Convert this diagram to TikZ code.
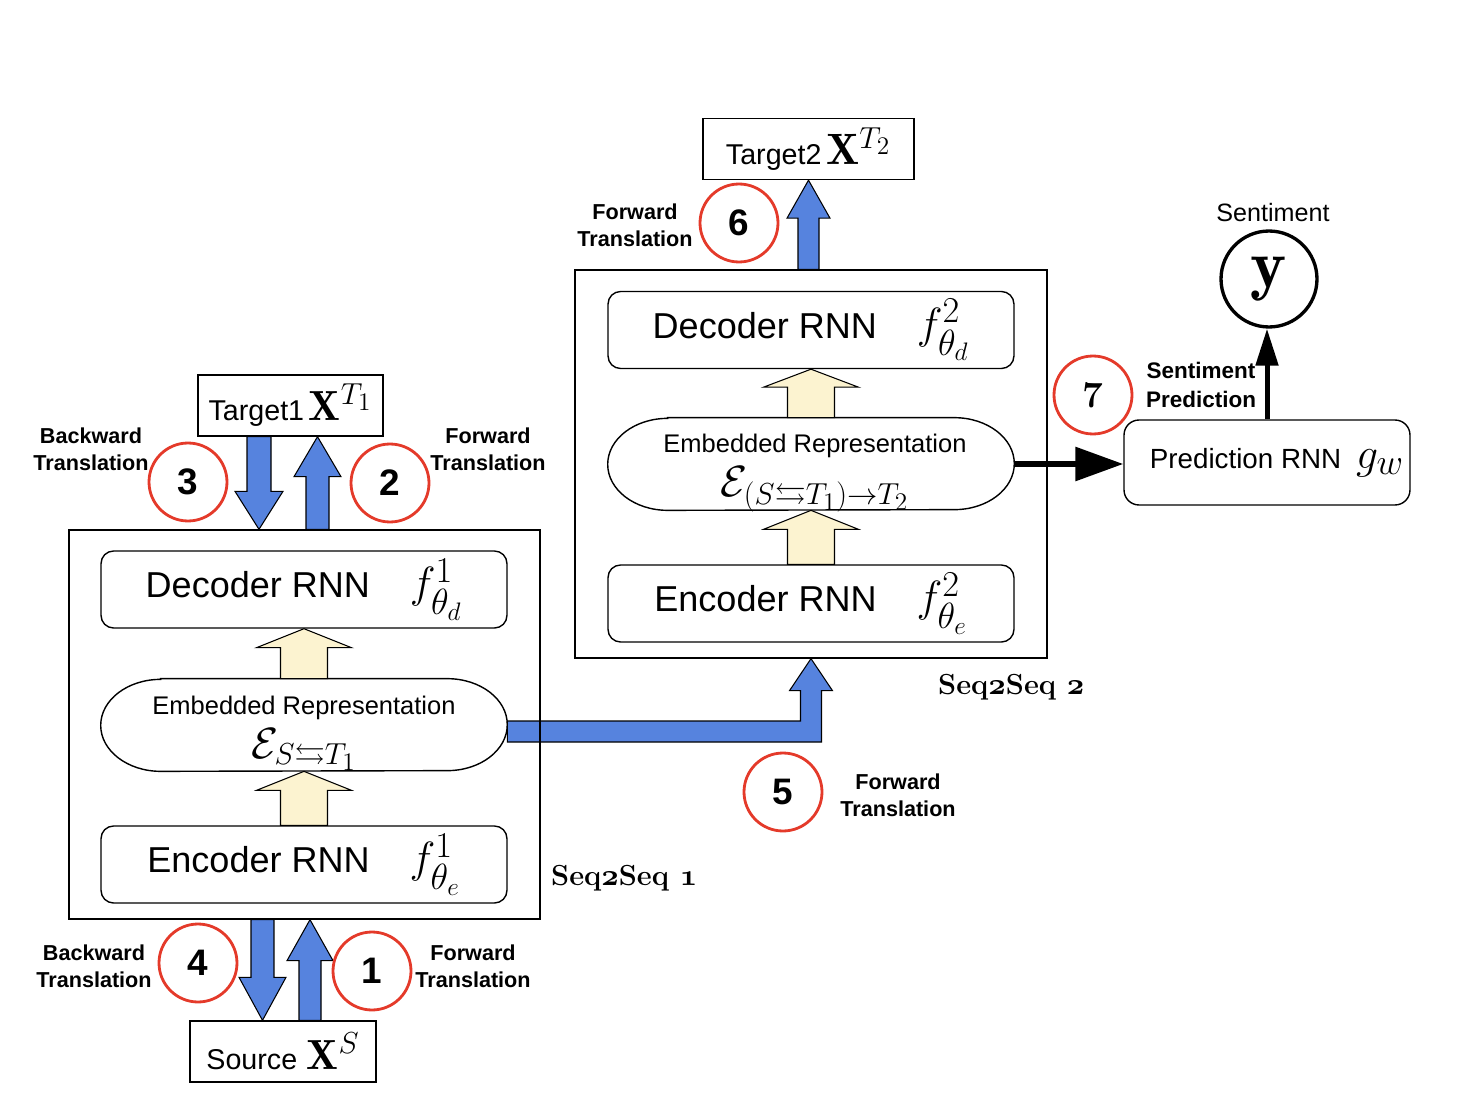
\documentclass[tikz,border=0pt]{standalone}
\usepackage{amsmath,amssymb}
\usepackage{fontspec}
\setsansfont{Liberation Sans}
\usetikzlibrary{calc,arrows.meta}
\renewcommand{\defaultscriptratio}{.72}
\renewcommand{\defaultscriptscriptratio}{.58}

\definecolor{arrowblue}{RGB}{86,131,222}
\definecolor{arrowbeige}{RGB}{252,243,208}
\definecolor{stepred}{RGB}{228,58,42}

% block arrow: #1 style, #2 from, #3 tip, #4 shaft half width, #5 head half width, #6 head length
\newcommand{\blockarrow}[6]{%
  \coordinate (ba-c) at ($(#3)!#6!(#2)$);
  \filldraw[#1] ($(#2)!#4!90:(#3)$) -- ($(ba-c)!#4!90:(#3)$) -- ($(ba-c)!#5!90:(#3)$) -- (#3)
    -- ($(ba-c)!#5!-90:(#3)$) -- ($(ba-c)!#4!-90:(#3)$) -- ($(#2)!#4!-90:(#3)$) -- cycle;}
% stadium outline round an embedding node
\newcommand{\embframe}[1]{%
  \draw[line width=0.8pt] ($(#1.north west)+(60,0)$) -- ($(#1.north east)+(-60,0)$)
    arc[start angle=90, end angle=-90, x radius=1.2cm, y radius=0.92cm]
    -- ($(#1.south west)+(60,0)$) arc[start angle=270, end angle=90, x radius=1.2cm, y radius=0.92cm] -- cycle;}
\newcommand{\osf}[1]{{\boldmath$\mathnormal{#1}$}}

\begin{document}
\begin{tikzpicture}[x=0.02cm, y=-0.02cm,
  rnnbox/.style={draw, rounded corners=0.25cm, line width=0.8pt, minimum width=8.12cm, minimum height=1.54cm, font=\sffamily\fontsize{20.5}{24}\selectfont},
  embbox/.style={minimum width=8.12cm, minimum height=1.84cm, inner sep=0pt},
  embtext/.style={align=center, inner sep=0pt, font=\sffamily\fontsize{14.5}{17}\selectfont},
  seqbox/.style={draw, line width=0.8pt, minimum width=9.42cm, minimum height=7.78cm},
  databox/.style={draw, line width=0.8pt, minimum height=1.22cm, inner sep=0pt, font=\sffamily\fontsize{16.3}{19}\selectfont},
  stepnum/.style={circle, draw=stepred, line width=1.6pt, minimum size=1.56cm, inner sep=0pt, font=\sffamily\bfseries\fontsize{21}{24}\selectfont},
  steplabel/.style={align=center, font=\sffamily\bfseries\fontsize{12.3}{15.5}\selectfont},
  seqlabel/.style={anchor=west, font=\bfseries\fontsize{16.5}{19}\selectfont},
  bluearrow/.style={fill=arrowblue, draw=black, line width=0.6pt},
  beigearrow/.style={fill=arrowbeige, draw=black, line width=0.6pt}]
\useasboundingbox (0,0) rectangle (1458,1108);

% Seq2Seq 1
\node[rnnbox] (dec1) at (304,589.5) {Decoder RNN\hspace{0.8cm}{\fontsize{27}{30}\selectfont$f^{1}_{\theta_d}$}};
\node[embbox] (emb1) at (304,725) {};
\embframe{emb1}
\node[embtext] (emb1txt) at (304,733) {Embedded Representation\\[4pt]{\fontsize{24}{24}\selectfont$\mathcal{E}_{S\leftrightarrows T_1}$}};
\node[rnnbox] (enc1) at (304,864.5) {Encoder RNN\hspace{0.8cm}{\fontsize{27}{30}\selectfont$f^{1}_{\theta_e}$}};
\node[databox, minimum width=3.7cm] (t1) at (290.5,405.5) {Target1\,{\fontsize{24}{26}\selectfont$\mathbf{X}^{T_1}$}};
\node[databox, minimum width=3.72cm] (src) at (283,1051.5) {Source\,\,{\fontsize{24}{26}\selectfont$\mathbf{X}^{S}$}};

% Seq2Seq 2
\node[seqbox, minimum width=9.44cm, minimum height=7.76cm] (s2) at (811,464) {};
\node[rnnbox] (dec2) at (811,330) {Decoder RNN\hspace{0.8cm}{\fontsize{27}{30}\selectfont$f^{2}_{\theta_d}$}};
\node[embbox] (emb2) at (811,464) {};
\embframe{emb2}
\node[embtext] (emb2txt) at (815,473) {Embedded Representation\\[4pt]{\fontsize{24.5}{24}\selectfont$\mathcal{E}_{(S\leftrightarrows T_1)\rightarrow T_2}$}};
\node[rnnbox] (enc2) at (811,603.5) {Encoder RNN\hspace{0.8cm}{\fontsize{27}{30}\selectfont$f^{2}_{\theta_e}$}};
\node[databox, minimum width=4.22cm] (t2) at (808.5,149) {Target2\,{\fontsize{25}{26}\selectfont$\mathbf{X}^{T_2}$}};

% Forward translation into Seq2Seq 2
\filldraw[bluearrow] ($(emb1.east)+(0,-4)$) -| ($(s2.south)+(-10.5,32)$) -- ++(-11,0) -- (s2.south)
  -- ++(21.5,32) -- ++(-11,0) |- ($(emb1.east)+(0,17)$) -- cycle;
\node[seqbox] (s1) at (304.5,724.5) {};

% Prediction
\node[draw, rounded corners=0.3cm, line width=0.8pt, minimum width=5.72cm, minimum height=1.7cm, inner sep=0pt,
  font=\sffamily\fontsize{15.8}{19}\selectfont] (pred) at (1267,462.5)
  {\hspace{0.4cm}Prediction RNN\hspace{0.3cm}{\fontsize{28}{30}\selectfont$g_w$}};
\node[circle, draw, line width=1.9pt, minimum size=1.92cm, inner sep=0pt] (yc) at (1269,279) {\fontsize{39}{39}\selectfont$\mathbf{y}$};
\node[font=\sffamily\fontsize{14.3}{17}\selectfont] (sent) at (1273,213) {Sentiment};

% Inner arrows
\blockarrow{beigearrow}{emb1.north}{dec1.south}{0.47cm}{0.95cm}{0.38cm}
\blockarrow{beigearrow}{enc1.north}{emb1.south}{0.47cm}{0.95cm}{0.38cm}
\blockarrow{beigearrow}{emb2.north}{dec2.south}{0.47cm}{0.95cm}{0.36cm}
\blockarrow{beigearrow}{enc2.north}{emb2.south}{0.47cm}{0.95cm}{0.38cm}

% Translation arrows
\coordinate (a3s) at ($(t1.south)+(-31.5,0)$);
\coordinate (a3t) at (a3s |- s1.north);
\blockarrow{bluearrow}{a3s}{a3t}{0.24cm}{0.48cm}{0.76cm}
\coordinate (a2t) at ($(t1.south)+(27,0)$);
\coordinate (a2s) at (a2t |- s1.north);
\blockarrow{bluearrow}{a2s}{a2t}{0.23cm}{0.47cm}{0.8cm}
\coordinate (a4t) at ($(src.north)+(-20.5,0)$);
\coordinate (a4s) at (a4t |- s1.south);
\blockarrow{bluearrow}{a4s}{a4t}{0.23cm}{0.47cm}{0.86cm}
\coordinate (a1s) at ($(src.north)+(27,0)$);
\coordinate (a1t) at (a1s |- s1.south);
\blockarrow{bluearrow}{a1s}{a1t}{0.22cm}{0.46cm}{0.82cm}
\coordinate (a6s) at (t2.south |- s2.north);
\blockarrow{bluearrow}{a6s}{t2.south}{0.21cm}{0.43cm}{0.76cm}

\draw[line width=0.12cm, -{Triangle[length=0.96cm, width=0.66cm]}] (emb2.east) -- (emb2.east -| pred.west);
\draw[line width=0.1cm, -{Triangle[length=0.74cm, width=0.44cm]}] (pred.north) -- (pred.north |- yc.south);

% Steps
\node[stepnum] (c1) at (372,971) {1};
\node[stepnum] (c2) at (390,483) {2};
\node[stepnum] (c3) at (188,482) {3};
\node[stepnum] (c4) at (198,963) {4};
\node[stepnum] (c5) at (783,792) {5};
\node[stepnum] (c6) at (739,223) {6};
\node[stepnum, font=\rmfamily\bfseries\fontsize{21}{24}\selectfont] (c7) at (1093,395) {7};
\node[steplabel] (l3) at (91,449) {Backward\\Translation};
\node[steplabel] (l2) at (488,449) {Forward\\Translation};
\node[steplabel] (l4) at (94,966) {Backward\\Translation};
\node[steplabel] (l1) at (473,966) {Forward\\Translation};
\node[steplabel] (l5) at (898,795) {Forward\\Translation};
\node[steplabel] (l6) at (635,225) {Forward\\Translation};
\node[steplabel, font=\sffamily\bfseries\fontsize{12.8}{16}\selectfont] (l7) at (1201,385) {Sentiment\\Prediction};

% Model names
\node[seqlabel] (n1) at (545,878) {Seq\osf{2}Seq \osf{1}};
\node[seqlabel] (n2) at (932,687) {Seq\osf{2}Seq \osf{2}};
\end{tikzpicture}
\end{document}
